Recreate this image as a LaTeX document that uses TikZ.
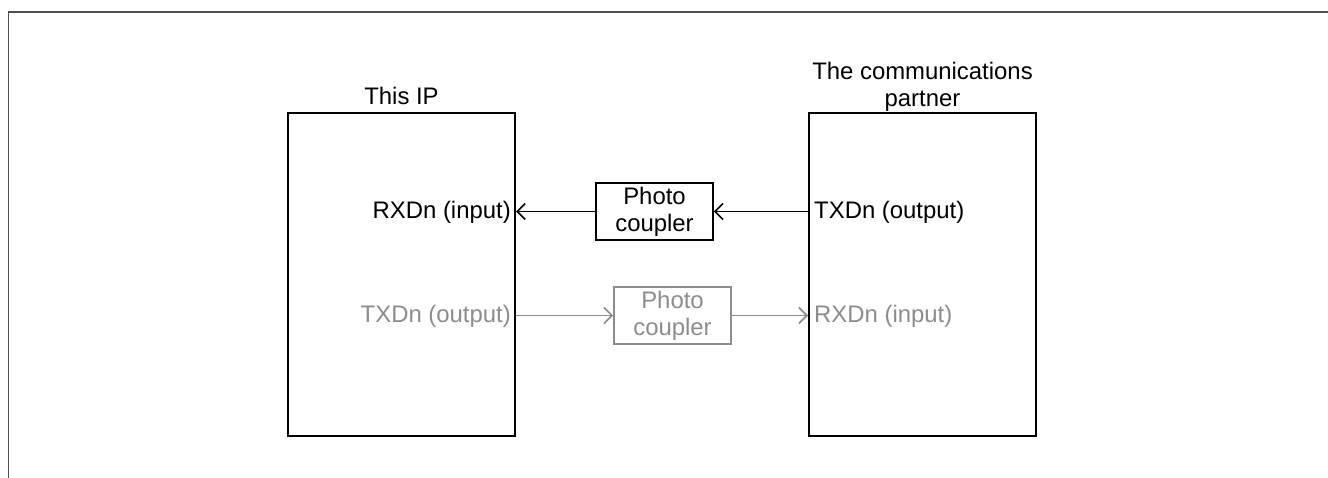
\documentclass[tikz,border=0pt]{standalone}
\usepackage{fontspec}
\setmainfont{Liberation Sans}
\usetikzlibrary{arrows.meta}
\definecolor{frame}{HTML}{505050}
\definecolor{dim}{HTML}{8C8C8C}
\tikzset{
  unit/.style={draw=black, line width=2pt, inner sep=0pt},
  coupler/.style={draw, line width=1.8pt, minimum width=117pt, minimum height=57pt, inner sep=0pt, align=center, font=\fontsize{23.9}{27}\selectfont},
  lbl/.style={inner sep=0pt, font=\fontsize{23.9}{27}\selectfont},
  sig/.style={line width=1.8pt, -{Straight Barb[length=8pt, width=16pt, line width=1.6pt]}},
}
\begin{document}
\begin{tikzpicture}[x=1pt, y=-1pt]
\useasboundingbox (0,0) rectangle (1328,478);
% outer frame
\draw[frame, line width=1.6pt] (8.5,478) -- (8.5,12) -- (1328,12);
% units
\node[unit, minimum width=227pt, minimum height=323pt] (ip) at (401.5,274.5) {};
\node[unit, minimum width=227pt, minimum height=323pt] (partner) at (922.5,274.5) {};
\node[lbl, anchor=base] (iplbl) at (401.5,105) {This IP};
\node[lbl, anchor=south, align=center] (partnerlbl) at (922.5,112) {The communications\\partner};
% photo couplers
\node[coupler, draw=black] (pc1) at (654.5,211.5) {Photo\\coupler};
\node[coupler, draw=dim, text=dim] (pc2) at (672.5,315.5) {Photo\\coupler};
% labels
\node[lbl, anchor=east] (rx1) at (511,212) {RXDn (input)};
\node[lbl, anchor=west] (tx1) at (814,212) {TXDn (output)};
\node[lbl, anchor=east, text=dim] (tx2) at (511,316) {TXDn (output)};
\node[lbl, anchor=west, text=dim] (rx2) at (814,316) {RXDn (input)};
% connectors
\coordinate (p1r) at (pc1.east -| partner.west);
\coordinate (p1l) at (pc1.west -| ip.east);
\coordinate (p2l) at (pc2.west -| ip.east);
\coordinate (p2r) at (pc2.east -| partner.west);
\draw[sig] (p1r) -- (pc1.east);
\draw[sig] (pc1.west) -- (p1l);
\draw[sig, dim] (p2l) -- (pc2.west);
\draw[sig, dim] (pc2.east) -- (p2r);
\end{tikzpicture}
\end{document}
